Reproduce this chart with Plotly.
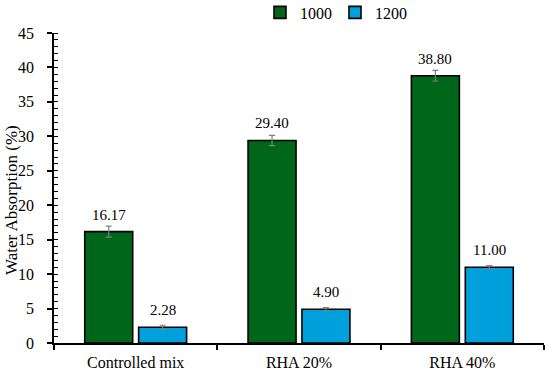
import plotly.graph_objects as go

categories = ["Controlled mix", "RHA 20%", "RHA 40%"]
series_names = ["1000", "1200"]
values_1000 = [16.17, 29.40, 38.80]
values_1200 = [2.28, 4.90, 11.00]
err_1000 = [0.8, 0.75, 0.77]
err_1200 = [0.3, 0.25, 0.25]
colors = ["#00661a", "#00a0dc"]
y_title = "Water Absorption (%)"

FONT = "Liberation Serif, Times New Roman, serif"
W, H = 550, 373
ML, MR, MT, MB = 54, 6, 33, 30
BARGAP = 0.34

fig = go.Figure()
all_vals = [values_1000, values_1200]
all_errs = [err_1000, err_1200]
for name, vals, errs, col in zip(series_names, all_vals, all_errs, colors):
    fig.add_trace(go.Bar(
        x=categories, y=vals, name=name,
        marker=dict(color=col, line=dict(color="black", width=1.6)),
        error_y=dict(type="data", array=errs, color="#7f7f7f", thickness=1.2, width=3),
        cliponaxis=False,
    ))

# value labels above each bar (positioned from data through the axes)
cat_w = (W - ML - MR) / len(categories)
slot = cat_w * (1 - BARGAP) / len(series_names)
for si, (vals, errs) in enumerate(zip(all_vals, all_errs)):
    shift = (si - (len(series_names) - 1) / 2) * slot
    for c, v, e in zip(categories, vals, errs):
        fig.add_annotation(x=c, y=v, text=f"{v:.2f}", showarrow=False,
                           xshift=shift, yshift=7, yanchor="bottom",
                           font=dict(family=FONT, size=15, color="black"))

# y-axis title
pw, ph = W - ML - MR, H - MT - MB
fig.add_annotation(text=y_title, xref="paper", yref="paper",
                   x=(11 - ML) / pw, y=(H - MB - 200) / ph,
                   xanchor="center", yanchor="middle", textangle=-90, showarrow=False,
                   font=dict(family=FONT, size=17, color="black"))

fig.update_layout(
    width=W, height=H,
    margin=dict(l=ML, r=MR, t=MT, b=MB, autoexpand=False),
    paper_bgcolor="white", plot_bgcolor="white",
    barmode="group", bargap=BARGAP, bargroupgap=0.11,
    font=dict(family=FONT, size=16, color="black"),
    showlegend=True,
    legend=dict(orientation="h", xref="container", yref="container",
                x=260 / W, xanchor="left", y=1 - 12.5 / H, yanchor="middle",
                font=dict(family=FONT, size=16), tracegroupgap=0,
                entrywidth=30, bgcolor="rgba(0,0,0,0)"),
    xaxis=dict(showline=True, linecolor="black", linewidth=1.5, automargin=False,
               ticks="outside", tickson="boundaries", ticklen=5, tickcolor="black",
               tickwidth=1.5, ticklabelstandoff=4,
               tickfont=dict(family=FONT, size=16), showgrid=False),
    yaxis=dict(range=[0, 45], dtick=5, showline=True, linecolor="black", linewidth=1.5,
               automargin=False,
               ticks="outside", ticklen=5, tickwidth=1.5, tickcolor="black",
               ticklabelstandoff=10,
               minor=dict(dtick=1, ticks="inside", ticklen=4, tickcolor="black", tickwidth=1),
               showgrid=False, zeroline=False,
               tickfont=dict(family=FONT, size=16)),
)

fig.write_html("out.html", config={"displayModeBar": False},
               post_script="document.body.style.margin='0';")
